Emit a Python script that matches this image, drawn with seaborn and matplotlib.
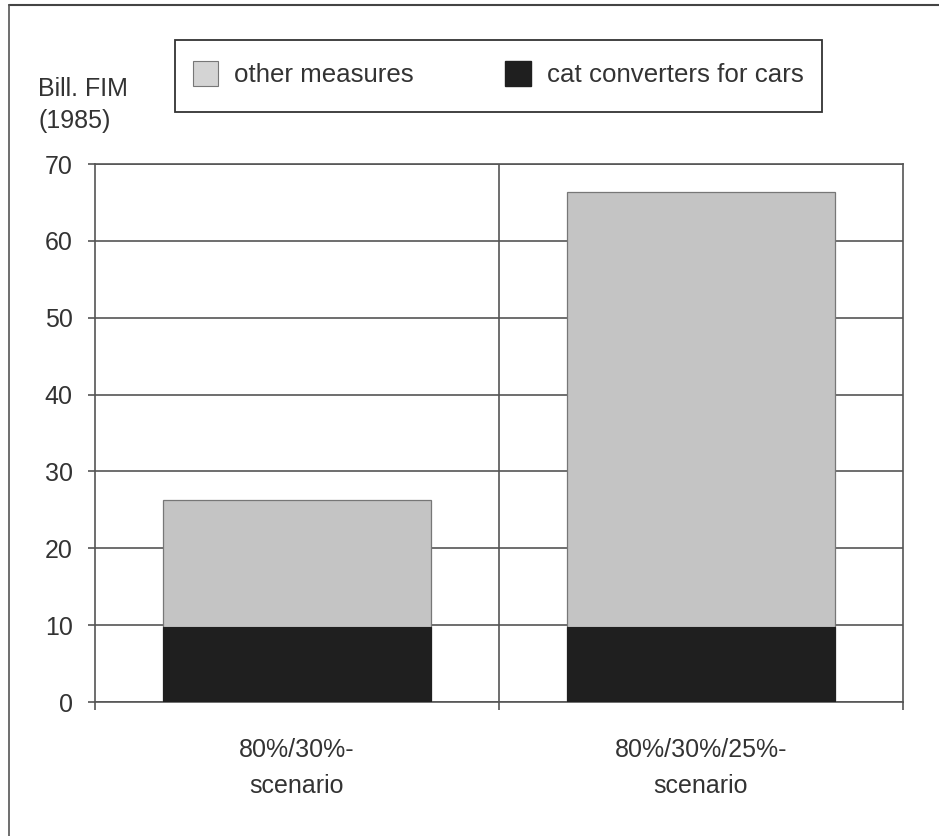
import matplotlib
matplotlib.use("Agg")
import matplotlib.pyplot as plt
from matplotlib.patches import Patch, Rectangle
from matplotlib.lines import Line2D
import seaborn as sns
import pandas as pd

# Costs of emission reduction scenarios, billions of FIM (1985 prices)
scenarios = ["80%/30%-\nscenario", "80%/30%/25%-\nscenario"]
cat_converters = [9.7, 9.7]
other_measures = [16.6, 56.7]
series_names = ["other measures", "cat converters for cars"]
y_ticks = [0, 10, 20, 30, 40, 50, 60, 70]

totals = [c + o for c, o in zip(cat_converters, other_measures)]
df = pd.DataFrame({"scenario": scenarios, "cat": cat_converters, "total": totals})

sns.set_theme(style="white")
plt.rcParams["font.family"] = ["Liberation Sans", "DejaVu Sans"]

W, H = 939, 836
FS = 18
GRAY = "#c4c4c4"
BLACK = "#1f1f1f"
LINE = "#555555"
TEXT = "#333333"

fig = plt.figure(figsize=(W / 100, H / 100), dpi=100)
ax = fig.add_axes([95 / W, 1 - 702 / H, 808 / W, 538 / H])

# stacked bars: full height in gray, converter share in black on top
sns.barplot(data=df, x="scenario", y="total", color=GRAY, width=0.665,
            edgecolor="#777777", linewidth=0.9, saturation=1, ax=ax, zorder=3)
sns.barplot(data=df, x="scenario", y="cat", color=BLACK, width=0.665,
            edgecolor=BLACK, linewidth=0.8, saturation=1, ax=ax, zorder=4)

ax.set_xlim(-0.5, 1.5)
ax.set_ylim(0, 70)
ax.set_yticks(y_ticks)
ax.set_xlabel("")
ax.set_ylabel("")

# horizontal gridlines and the category divider
ax.yaxis.grid(True, color=LINE, linewidth=1.2, zorder=1)
ax.axvline(0.5, color=LINE, linewidth=1.2, zorder=1)

for side in ["left", "right", "top", "bottom"]:
    ax.spines[side].set_visible(True)
    ax.spines[side].set_color(LINE)
    ax.spines[side].set_linewidth(1.2)

ax.tick_params(axis="y", which="major", direction="out", length=5, width=1.2,
               color=LINE, labelsize=FS, labelcolor=TEXT, pad=11, left=True)
ax.tick_params(axis="x", which="major", length=0, labelsize=FS,
               labelcolor=TEXT, pad=26)
# boundary ticks between categories
ax.set_xticks([-0.5, 0.5, 1.5], minor=True)
ax.tick_params(axis="x", which="minor", direction="out", length=6, width=1.2,
               color=LINE, bottom=True)
for lbl in ax.get_xticklabels():
    lbl.set_linespacing(1.65)

# unit label
fig.text(38 / W, 1 - 96 / H, "Bill. FIM", fontsize=FS, color=TEXT,
         ha="left", va="baseline")
fig.text(38 / W, 1 - 128 / H, "(1985)", fontsize=FS, color=TEXT,
         ha="left", va="baseline")

# legend box
fig.add_artist(Rectangle((175 / W, 1 - 112 / H), 647 / W, 72 / H,
                         transform=fig.transFigure, facecolor="white",
                         edgecolor=TEXT, linewidth=1.3, zorder=5))
handles = [Patch(facecolor="#d4d4d4", edgecolor="#777777", linewidth=0.8),
           Patch(facecolor=BLACK, edgecolor=BLACK)]
leg = fig.legend(handles, series_names, loc="center", ncol=2,
                 bbox_to_anchor=(498 / W, 1 - 74 / H),
                 frameon=False, fontsize=18.6, handlelength=1.0,
                 handleheight=1.1, handletextpad=0.6, borderpad=0,
                 columnspacing=3.55, borderaxespad=0)
leg.set_zorder(6)
for t in leg.get_texts():
    t.set_color(TEXT)

# outer frame lines along the top and left edges
fig.add_artist(Line2D([9 / W, 1.0], [1 - 5 / H, 1 - 5 / H],
                      color="#444444", linewidth=1.5, transform=fig.transFigure))
fig.add_artist(Line2D([9 / W, 9 / W], [0.0, 1 - 5 / H],
                      color="#555555", linewidth=1.2, transform=fig.transFigure))

fig.savefig("out.png", dpi=100, facecolor="white")
